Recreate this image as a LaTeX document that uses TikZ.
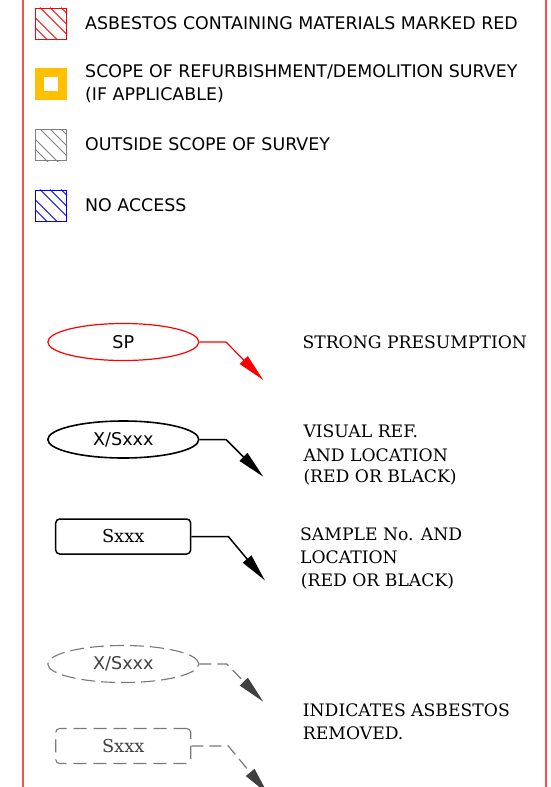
\documentclass[tikz,border=0pt]{standalone}
\usepackage{fontspec}
\setmainfont{DejaVu Serif}
\setsansfont{DejaVu Sans}
\usetikzlibrary{arrows.meta, shapes.geometric}

\definecolor{frame}{RGB}{240,80,80}
\definecolor{amber}{RGB}{255,192,0}
\definecolor{hatchgrey}{RGB}{128,128,128}
\definecolor{gone}{RGB}{120,120,120}
\definecolor{gonetip}{RGB}{64,64,64}

\begin{document}
\begin{tikzpicture}[
  x=1pt, y=-1pt,
  swatch/.style = {draw, line width=1pt, minimum size=31pt, inner sep=0pt},
  leg/.style    = {font=\sffamily\fontsize{17.4}{20}\selectfont, inner sep=0pt, anchor=base west},
  desc/.style   = {font=\rmfamily\fontsize{17.2}{20}\selectfont, inner sep=0pt, anchor=base west},
  tag/.style    = {ellipse, draw, minimum width=151pt, minimum height=37pt, inner sep=0pt,
                   font=\sffamily\fontsize{17.6}{20}\selectfont},
  ref/.style    = {draw, rounded corners=4pt, minimum width=135pt, minimum height=35pt, inner sep=0pt,
                   font=\rmfamily\fontsize{17.8}{20}\selectfont},
  lead/.style   = {-{Triangle[length=28pt, width=11pt]}, line width=1.2pt},
  leadgone/.style = {-{Triangle[length=28pt, width=11pt, color=gonetip]}, line width=1.2pt, gone,
                   dash pattern=on 12pt off 6pt},
]
\useasboundingbox (0,0) rectangle (550,787);

% frame
\draw[frame, line width=2pt] (23,0) -- (23,787);
\draw[frame, line width=2pt] (546,0) -- (546,787);

% =============== legend swatches ===============
\foreach \n/\y/\col in {acm/23.5/red, outs/145/hatchgrey, noacc/205.5/blue} {
  \node[swatch, draw=\col] (\n) at (51,\y) {};
  \begin{scope}
    \clip (\n.north west) rectangle (\n.south east);
    \foreach \c in {-20,-10,5,15,26}
      \draw[\col, line width=0.9pt] ([xshift=\c pt]\n.north west) -- ++(40,40);
  \end{scope}
}
\node[draw=amber, fill=white, line width=8.8pt, minimum size=23.2pt, inner sep=0pt] (scope) at (51,83.7) {};

\node[leg] (acmtxt)   at (85,29.3)  {ASBESTOS CONTAINING MATERIALS MARKED RED};
\node[leg] (scopetxt) at (85,77.7)  {SCOPE OF REFURBISHMENT/DEMOLITION SURVEY};
\node[leg] (scopeif)  at (85,100.5) {(IF APPLICABLE)};
\node[leg] (outstxt)  at (85,150.7) {OUTSIDE SCOPE OF SURVEY};
\node[leg] (noacctxt) at (85,211)   {NO ACCESS};

% =============== reference tags ===============
\node[tag, draw=red, line width=1.2pt] (sp) at (123.3,342) {SP};
\node[tag, line width=1.6pt] (vis) at (123.3,439.5) {X/Sxxx};
\node[ref, line width=1.5pt] (smp) at (123.2,536.5) {Sxxx};
\node[tag, gone, text=gonetip, line width=1.1pt, dash pattern=on 14pt off 6pt] (visgone) at (123.3,664) {X/Sxxx};
\node[ref, gone, text=gonetip, line width=1.1pt, dash pattern=on 13pt off 7pt] (smpgone) at (123.2,746) {Sxxx};

\coordinate (spbend) at (226,342);        \coordinate (sptip) at (263.3,380);
\coordinate (visbend) at (226,439.5);     \coordinate (vistip) at (263.3,476.7);
\coordinate (smpbend) at (228.3,536.5);   \coordinate (smptip) at (265,580.5);
\coordinate (visgonebend) at (226.7,664); \coordinate (visgonetip) at (263.3,701.7);
\coordinate (smpgonebend) at (228.3,746); \coordinate (smpgonetip) at (268,794);

\draw[lead, red] (sp.east) -- (spbend) -- (sptip);
\draw[lead, line width=1.5pt] (vis.east) -- (visbend) -- (vistip);
\draw[lead, line width=1.5pt] (smp.east) -- (smpbend) -- (smptip);
\draw[leadgone] (visgone.east) -- (visgonebend) -- (visgonetip);
\draw[leadgone] (smpgone.east) -- (smpgonebend) -- (smpgonetip);

% =============== descriptions ===============
\node[desc] (sptxt)  at (302.3,348.3) {STRONG PRESUMPTION};
\node[desc] (vis1)   at (303.3,437.7) {VISUAL REF.};
\node[desc] (vis2)   at (303.3,461)   {AND LOCATION};
\node[desc] (vis3)   at (303.3,482.5) {(RED OR BLACK)};
\node[desc] (smp1)   at (300,540)     {SAMPLE No. AND};
\node[desc] (smp2)   at (300,563.3)   {LOCATION};
\node[desc] (smp3)   at (300.7,586)   {(RED OR BLACK)};
\node[desc] (gone1)  at (302.7,716)   {INDICATES ASBESTOS};
\node[desc] (gone2)  at (302.7,739)   {REMOVED.};

\end{tikzpicture}
\end{document}
